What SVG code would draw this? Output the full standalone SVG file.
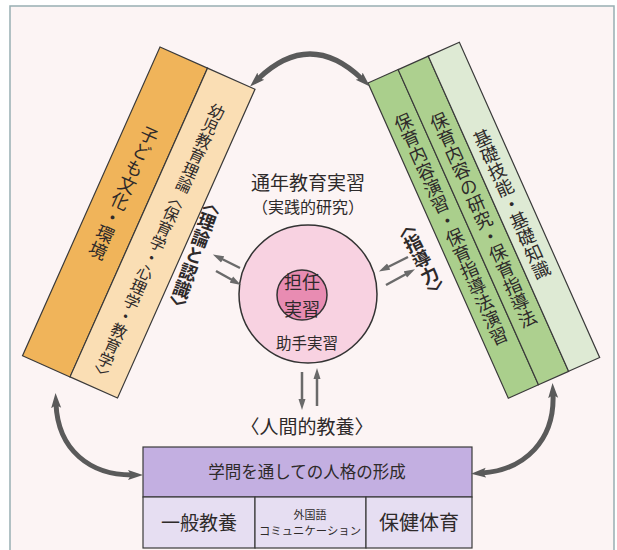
<svg xmlns="http://www.w3.org/2000/svg" width="617" height="550" viewBox="0 0 617 550">
<style>
text{font-family:"Noto Sans CJK JP","Noto Sans CJK SC",sans-serif;fill:#2e2a2a}
.v{writing-mode:vertical-rl}
.bd{stroke:#3a3a3a;stroke-width:1.2}
.arc{fill:none;stroke:#5a5a5a;stroke-width:5;marker-start:url(#hd);marker-end:url(#hd)}
.sm{fill:none;stroke:#6a6a6a;stroke-width:2.5;marker-end:url(#hs)}
.c{text-anchor:middle}
</style>
<defs>
<marker id="hd" markerUnits="userSpaceOnUse" markerWidth="16" markerHeight="12" refX="4" refY="5" orient="auto-start-reverse" viewBox="0 0 16 10"><path d="M0,0 L15,5 L0,10 L3,5 z" fill="#5a5a5a"/></marker>
<marker id="hs" markerUnits="userSpaceOnUse" markerWidth="12" markerHeight="8" refX="3" refY="3.5" orient="auto" viewBox="0 0 12 7"><path d="M0,0 L11,3.5 L0,7 z" fill="#6a6a6a"/></marker>
</defs>
<rect x="0" y="0" width="617" height="550" fill="#ffffff"/>
<rect x="10" y="6" width="604" height="560" fill="#fcf4f4" stroke="#98aeb2" stroke-width="1.5"/>

<g id="band-left" transform="translate(160,47) rotate(24)">
<rect class="bd" x="0" y="0" width="52" height="338" fill="#f0b45a"/>
<rect class="bd" x="52" y="0" width="52" height="338" fill="#fadeb4"/>
<text class="v" x="26" y="76" font-size="18">子ども文化・環境</text>
<text class="v" x="78" y="28" font-size="16">幼児教育理論〈保育学・心理学・教育学〉</text>
</g>

<g id="band-right" transform="translate(368,83) rotate(-24)">
<rect class="bd" x="0" y="0" width="33" height="345" fill="#aacf8c"/>
<rect class="bd" x="33" y="0" width="33" height="345" fill="#add08f"/>
<rect class="bd" x="66" y="0" width="34" height="345" fill="#deead4"/>
<text class="v" x="16.5" y="41" font-size="18">保育内容演習・保育指導法演習</text>
<text class="v" x="49.5" y="55" font-size="18">保育内容の研究・保育指導法</text>
<text class="v" x="82" y="88" font-size="18">基礎技能・基礎知識</text>
</g>

<g id="label-theory" transform="translate(216,196) rotate(20)">
<text class="v" x="0" y="0" font-size="18" font-weight="bold">〈理論と認識〉</text>
</g>
<g id="label-guidance" transform="translate(401,219) rotate(-27)">
<text class="v" x="0" y="0" font-size="18" font-weight="bold">〈指導力〉</text>
</g>

<g id="title-practice">
<text class="c" x="308" y="190" font-size="19">通年教育実習</text>
<text class="c" x="308" y="213" font-size="16">（実践的研究）</text>
</g>

<g id="circle-practice">
<circle cx="308" cy="294" r="69" fill="#f8d2e1" stroke="#333" stroke-width="1.5"/>
<circle cx="302" cy="295" r="25" fill="#e88cb2" stroke="#333" stroke-width="1.5"/>
<text class="c" font-size="18"><tspan x="302" y="289">担任</tspan><tspan x="302" y="315.5">実習</tspan></text>
<text class="c" x="307" y="349" font-size="15.5">助手実習</text>
</g>

<g id="label-human">
<text class="c" x="307" y="434" font-size="19">〈人間的教養〉</text>
</g>

<g id="box-liberal">
<rect class="bd" x="143" y="447" width="329" height="50" fill="#c3afe1"/>
<rect class="bd" x="143" y="497" width="112" height="51" fill="#e6def2"/>
<rect class="bd" x="255" y="497" width="111" height="51" fill="#e6def2"/>
<rect class="bd" x="366" y="497" width="106" height="51" fill="#e6def2"/>
<text class="c" x="307" y="478" font-size="16.5">学問を通しての人格の形成</text>
<text class="c" x="199" y="530" font-size="19">一般教養</text>
<text class="c" x="310" y="519" font-size="11">外国語</text>
<text class="c" x="310" y="535" font-size="11" textLength="102" lengthAdjust="spacingAndGlyphs">コミュニケーション</text>
<text class="c" x="419" y="530" font-size="20">保健体育</text>
</g>

<g id="connectors">
<path class="arc" d="M258,79 Q310,29 362,79"/>
<path class="arc" d="M56,404 C58,450 90,475 132,475"/>
<path class="arc" d="M553,394 C555,440 525,470 482,473"/>
<path class="sm" d="M240,268 L220,258"/>
<path class="sm" d="M216,271 L234,281"/>
<path class="sm" d="M408,257 L386,268"/>
<path class="sm" d="M386,285 L408,273"/>
<path class="sm" d="M302,372 L302,402"/>
<path class="sm" d="M317,406 L317,376"/>
</g>
</svg>
